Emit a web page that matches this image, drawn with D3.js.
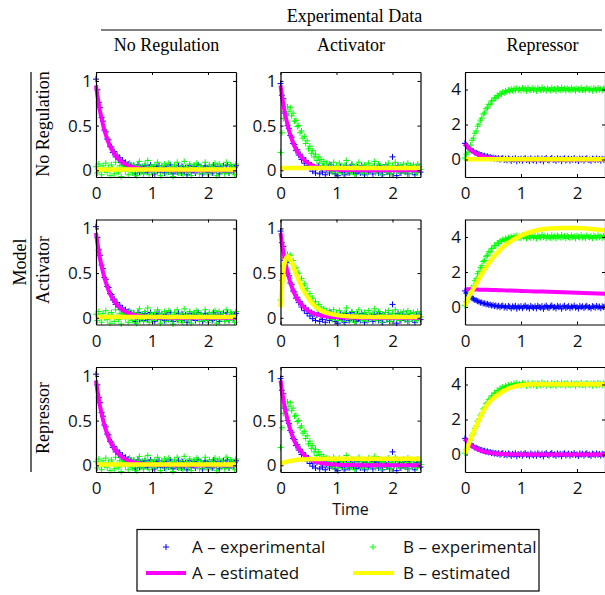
<!DOCTYPE html>
<html><head><meta charset="utf-8">
<script src="https://cdn.jsdelivr.net/npm/d3@7"></script>
<style>body{margin:0;background:#fff} svg{display:block}</style>
</head><body>
<svg id="chart" width="605" height="595"></svg>
<script>
// ---------- labels ----------
const rowNames = ["No Regulation", "Activator", "Repressor"];   // model
const colNames = ["No Regulation", "Activator", "Repressor"];   // experimental data
const xTicks = [0, 1, 2];
const yTicksSmall = [0, 0.5, 1];
const yTicksLarge = [0, 2, 4];
const legendLabels = ["A \u2013 experimental", "B \u2013 experimental", "A \u2013 estimated", "B \u2013 estimated"];

// ---------- experimental data (sampled every 0.025 time units, 0..2.5) ----------
const sampleStep = 0.025;
const expA_noReg = [
  1.02, 0.90, 0.76, 0.70, 0.59, 0.55, 0.45, 0.43, 0.35, 0.34,
  0.27, 0.26, 0.20, 0.21, 0.15, 0.17, 0.12, 0.14, 0.09, 0.11,
  0.06, 0.09, 0.04, 0.07, 0.02, 0.06, 0.01, 0.05, -0.04, 0.03,
  0.06, -0.02, 0.02, 0.04, -0.03, 0.05, 0.01, -0.02, 0.03, 0.06,
  -0.01, 0.02, -0.04, 0.04, 0.00, 0.05, -0.02, 0.03, 0.01, -0.03,
  0.04, 0.02, -0.02, 0.06, 0.00, -0.04, 0.03, 0.01, -0.02, 0.05,
  0.02, -0.03, 0.04, -0.01, 0.03, -0.05, 0.02, 0.05, -0.02, 0.01,
  0.04, -0.03, 0.02, 0.06, -0.01, 0.03, -0.04, 0.02, 0.05, 0.00,
  -0.02, 0.04, 0.01, -0.03, 0.06, 0.02, -0.01, 0.04, -0.04, 0.03,
  0.01, 0.05, -0.02, 0.02, 0.06, -0.03, 0.01, 0.04, -0.01, 0.03,
  0.05];
const expB_noReg = [
  0.04, -0.03, 0.07, 0.01, -0.05, 0.05, 0.00, 0.08, -0.02, 0.03,
  -0.06, 0.06, 0.02, -0.04, 0.09, 0.01, -0.02, 0.05, -0.07, 0.03,
  0.06, -0.01, 0.04, -0.05, 0.08, 0.00, -0.03, 0.06, 0.02, -0.06,
  0.05, 0.10, -0.02, 0.03, -0.04, 0.07, 0.01, 0.11, -0.05, 0.04,
  0.02, -0.03, 0.06, -0.01, 0.09, 0.03, -0.06, 0.05, 0.00, 0.07,
  -0.04, 0.02, 0.08, -0.02, 0.04, -0.07, 0.06, 0.01, 0.09, -0.03,
  0.03, 0.05, -0.05, 0.10, 0.00, 0.04, -0.02, 0.07, -0.06, 0.02,
  0.06, -0.01, 0.08, 0.03, -0.04, 0.05, 0.01, -0.03, 0.09, 0.02,
  -0.05, 0.06, 0.00, 0.04, -0.02, 0.08, -0.06, 0.03, 0.07, -0.01,
  0.05, 0.01, -0.04, 0.09, 0.02, -0.03, 0.06, 0.00, 0.04, -0.05,
  0.07];
const expA_act = [
  0.97, 0.84, 0.80, 0.64, 0.62, 0.50, 0.47, 0.39, 0.37, 0.30,
  0.29, 0.22, 0.23, 0.17, 0.18, 0.12, 0.14, 0.08, 0.11, 0.05,
  0.08, 0.02, 0.06, -0.01, 0.04, -0.03, 0.03, 0.05, -0.04, 0.02,
  -0.02, 0.04, -0.05, 0.01, 0.03, -0.03, 0.06, -0.01, 0.02, -0.04,
  0.03, -0.06, 0.01, 0.04, -0.02, 0.02, -0.05, 0.05, 0.00, -0.03,
  0.03, 0.06, -0.02, 0.01, -0.04, 0.04, 0.00, -0.03, 0.05, 0.02,
  -0.05, 0.03, 0.01, -0.02, 0.02, 0.02, -0.04, 0.04, -0.01, 0.03,
  -0.03, 0.05, 0.00, -0.05, 0.02, 0.06, -0.02, 0.03, -0.04, 0.01,
  0.15, -0.01, 0.02, -0.06, 0.05, 0.01, -0.03, 0.03, 0.00, -0.02,
  0.04, -0.04, 0.02, 0.05, -0.01, 0.01, -0.05, 0.03, 0.00, 0.04,
  -0.02];
const expB_act = [
  0.20, 0.42, 0.58, 0.66, 0.63, 0.71, 0.66, 0.70, 0.61, 0.64,
  0.55, 0.56, 0.49, 0.50, 0.42, 0.44, 0.36, 0.38, 0.30, 0.33,
  0.24, 0.27, 0.19, 0.22, 0.15, 0.18, 0.11, 0.15, 0.08, 0.12,
  0.05, 0.10, 0.03, 0.08, 0.01, 0.07, 0.04, -0.02, 0.09, 0.02,
  0.05, -0.03, 0.08, 0.01, 0.04, -0.04, 0.06, 0.11, 0.00, 0.03,
  -0.02, 0.07, 0.02, -0.05, 0.05, 0.01, 0.09, -0.01, 0.04, -0.03,
  0.06, 0.02, -0.04, 0.08, 0.03, -0.01, 0.05, 0.10, -0.03, 0.02,
  0.07, 0.00, -0.05, 0.04, 0.01, 0.06, -0.02, 0.08, 0.03, -0.04,
  0.05, 0.02, 0.09, -0.01, 0.04, -0.03, 0.06, 0.01, 0.07, -0.02,
  0.03, 0.08, -0.04, 0.05, 0.00, 0.06, 0.02, -0.03, 0.07, 0.04,
  0.01];
const expA_rep = [
  0.92, 0.80, 0.74, 0.62, 0.58, 0.50, 0.47, 0.40, 0.38, 0.33,
  0.31, 0.25, 0.26, 0.20, 0.21, 0.15, 0.18, 0.12, 0.14, 0.08,
  0.11, 0.05, 0.09, 0.02, 0.07, -0.01, 0.05, 0.08, -0.03, 0.04,
  -0.05, 0.06, 0.01, -0.08, 0.04, -0.02, 0.07, -0.10, 0.03, -0.04,
  0.05, -0.07, 0.02, 0.08, -0.03, 0.01, -0.09, 0.06, -0.01, -0.05,
  0.04, -0.08, 0.07, 0.00, -0.04, 0.05, -0.11, 0.02, 0.08, -0.02,
  -0.06, 0.03, 0.09, -0.03, 0.01, -0.08, 0.06, -0.01, 0.04, -0.10,
  0.02, 0.07, -0.05, 0.00, 0.05, -0.07, 0.03, -0.02, 0.08, -0.04,
  0.01, -0.09, 0.06, -0.01, 0.04, -0.06, 0.02, 0.07, -0.03, 0.00,
  -0.08, 0.05, 0.01, -0.04, 0.06, -0.02, 0.03, -0.07, 0.04, -0.01,
  0.02];
const expB_rep = [
  0.08, 0.30, 0.41, 0.70, 0.82, 1.10, 1.22, 1.50, 1.62, 1.90,
  2.02, 2.25, 2.36, 2.60, 2.66, 2.90, 2.95, 3.15, 3.16, 3.35,
  3.36, 3.52, 3.50, 3.66, 3.63, 3.78, 3.74, 3.86, 3.80, 3.92,
  3.86, 3.97, 3.90, 4.02, 3.93, 4.05, 3.95, 4.08, 3.96, 4.03,
  3.94, 4.09, 3.98, 4.04, 3.92, 4.10, 4.00, 3.95, 4.07, 3.97,
  4.05, 3.91, 4.08, 4.01, 3.96, 4.12, 3.99, 4.04, 3.93, 4.06,
  4.00, 3.95, 4.10, 3.97, 4.03, 3.92, 4.08, 4.02, 3.96, 4.11,
  3.98, 4.05, 3.93, 4.07, 4.00, 3.95, 4.09, 3.99, 4.04, 3.92,
  4.06, 4.01, 3.96, 4.10, 3.97, 4.03, 3.94, 4.08, 4.00, 3.98,
  4.05, 3.93, 4.07, 4.02, 3.96, 4.09, 3.99, 4.04, 3.95, 4.06,
  4.01];

// ---------- estimated trajectories ----------
const tEst = [0, 0.025, 0.05, 0.075, 0.1, 0.125, 0.15, 0.2, 0.25, 0.3, 0.35, 0.4, 0.5, 0.6, 0.7, 0.8, 1.0, 1.25, 1.5, 1.75, 2.0, 2.25, 2.5];
const estA_decay    = [0.95, 0.84, 0.74, 0.65, 0.58, 0.51, 0.45, 0.35, 0.27, 0.21, 0.165, 0.128, 0.078, 0.047, 0.029, 0.017, 0.006, 0.002, 0.001, 0, 0, 0, 0];
const estA_decayRep = [0.92, 0.81, 0.72, 0.63, 0.56, 0.49, 0.43, 0.34, 0.26, 0.20, 0.16, 0.12, 0.075, 0.045, 0.027, 0.016, 0.006, 0.002, 0, 0, 0, 0, 0];
const estA_slow     = [1.02, 1.02, 1.01, 1.01, 1.01, 1.01, 1.00, 1.00, 0.99, 0.99, 0.98, 0.98, 0.97, 0.96, 0.95, 0.94, 0.92, 0.89, 0.87, 0.84, 0.82, 0.79, 0.76];
const estB_zero     = [0.01, 0.01, 0.01, 0.01, 0.01, 0.01, 0.01, 0.01, 0.01, 0.01, 0.01, 0.01, 0.01, 0.01, 0.01, 0.01, 0.01, 0.01, 0.01, 0.01, 0.01, 0.01, 0.01];
const estB_flat     = [0.025, 0.025, 0.025, 0.025, 0.025, 0.025, 0.025, 0.025, 0.025, 0.025, 0.025, 0.025, 0.025, 0.025, 0.025, 0.025, 0.025, 0.025, 0.025, 0.025, 0.025, 0.025, 0.025];
const estB_actFit   = [0.12, 0.35, 0.52, 0.62, 0.67, 0.69, 0.68, 0.62, 0.54, 0.46, 0.39, 0.32, 0.22, 0.14, 0.09, 0.06, 0.03, 0.015, 0.01, 0.01, 0.01, 0.01, 0.01];
const estB_repOnAct = [0.02, 0.025, 0.03, 0.034, 0.038, 0.042, 0.046, 0.052, 0.057, 0.061, 0.064, 0.066, 0.069, 0.07, 0.071, 0.072, 0.072, 0.072, 0.072, 0.072, 0.072, 0.072, 0.072];
const estB_actOnRep = [0.05, 0.25, 0.44, 0.62, 0.78, 0.92, 1.06, 1.32, 1.62, 1.90, 2.16, 2.40, 2.82, 3.18, 3.48, 3.72, 4.08, 4.36, 4.48, 4.52, 4.51, 4.46, 4.38];
const estB_repFit   = [0.05, 0.28, 0.48, 0.68, 0.88, 1.07, 1.26, 1.62, 1.98, 2.30, 2.60, 2.86, 3.20, 3.45, 3.66, 3.80, 3.96, 4.01, 4.02, 4.02, 4.02, 4.02, 4.02];

// ---------- assembly ----------
const expA = [expA_noReg, expA_act, expA_rep];
const expB = [expB_noReg, expB_act, expB_rep];
const estA = [
  [estA_decay, estA_decay, estA_decayRep],
  [estA_decay, estA_decay, estA_slow],
  [estA_decay, estA_decay, estA_decayRep]];
const estB = [
  [estB_zero, estB_flat, estB_zero],
  [estB_zero, estB_actFit, estB_actOnRep],
  [estB_zero, estB_repOnAct, estB_repFit]];

const svg = d3.select("#chart");
const SANS = "'Open Sans', 'DejaVu Sans', sans-serif";
const SERIF = "'Liberation Serif', 'DejaVu Serif', serif";
const colLeft = [96, 280.5, 465];
const rowTop = [72, 219.5, 367];
const pw = 140, ph = 105;
const colors = {A: "#0000ff", B: "#00ff00", Aest: "#ff00ff", Best: "#ffff00"};
const plusPath = "M-3,0H3M0,-3V3";

for (let r = 0; r < 3; r++) {
  for (let c = 0; c < 3; c++) {
    const g = svg.append("g").attr("transform", `translate(${colLeft[c]},${rowTop[r]})`);
    const x = d3.scaleLinear().domain([0, 2.5]).range([0, pw]);
    const y = d3.scaleLinear().domain(c === 2 ? [-1, 5] : [-0.075, 1.1]).range([ph, 0]);
    const yt = c === 2 ? yTicksLarge : yTicksSmall;

    // experimental points
    [[expA[c], colors.A], [expB[c], colors.B]].forEach(([vals, col]) => {
      g.append("g").selectAll("path").data(vals).join("path")
        .attr("d", plusPath)
        .attr("transform", (v, i) => `translate(${x(i * sampleStep)},${y(v)})`)
        .attr("stroke", col).attr("stroke-width", 1).attr("fill", "none");
    });

    // estimated lines
    const line = d3.line().x((v, i) => x(tEst[i])).y(v => y(v)).curve(d3.curveMonotoneX);
    g.append("path").datum(estA[r][c]).attr("d", line)
      .attr("fill", "none").attr("stroke", colors.Aest).attr("stroke-width", 4);
    g.append("path").datum(estB[r][c]).attr("d", line)
      .attr("fill", "none").attr("stroke", colors.Best).attr("stroke-width", 4.5);

    // axes (box with inward ticks)
    const fmt = d => String(d);
    const ax = [
      g.append("g").attr("transform", `translate(0,${ph})`)
        .call(d3.axisBottom(x).tickValues(xTicks).tickSize(-3).tickSizeOuter(0).tickPadding(10).tickFormat(fmt)),
      g.append("g")
        .call(d3.axisLeft(y).tickValues(yt).tickSize(-3).tickSizeOuter(0).tickPadding(4).tickFormat(fmt)),
      g.append("g")
        .call(d3.axisTop(x).tickValues(xTicks).tickSize(-3).tickSizeOuter(0).tickFormat("")),
      g.append("g").attr("transform", `translate(${pw},0)`)
        .call(d3.axisRight(y).tickValues(yt).tickSize(-3).tickSizeOuter(0).tickFormat(""))
    ];
    ax.forEach(a => {
      a.attr("font-family", SANS).attr("font-size", 17);
      a.selectAll("path.domain").attr("stroke", "#000").attr("stroke-width", 1.2);
      a.selectAll(".tick line").attr("stroke", "#000");
      a.selectAll("text").attr("fill", "#111");
    });
  }
}

// ---------- headers ----------
svg.append("text").attr("x", 354.5).attr("y", 22).attr("text-anchor", "middle")
  .attr("font-family", SERIF).attr("font-size", 18).text("Experimental Data");
svg.append("line").attr("x1", 101).attr("x2", 602).attr("y1", 30).attr("y2", 30)
  .attr("stroke", "#000").attr("stroke-width", 1.2);
const headerX = [166.5, 351, 542.5];
colNames.forEach((n, i) => svg.append("text").attr("x", headerX[i]).attr("y", 51)
  .attr("text-anchor", "middle").attr("font-family", SERIF).attr("font-size", 18).text(n));

svg.append("text").attr("transform", "translate(26,262) rotate(-90)").attr("text-anchor", "middle")
  .attr("font-family", SERIF).attr("font-size", 18).text("Model");
svg.append("line").attr("x1", 31).attr("x2", 31).attr("y1", 72).attr("y2", 472)
  .attr("stroke", "#000").attr("stroke-width", 1.2);
const rowLabelY = [124, 270, 418];
rowNames.forEach((n, i) => svg.append("text").attr("transform", `translate(49,${rowLabelY[i]}) rotate(-90)`)
  .attr("text-anchor", "middle").attr("font-family", SERIF).attr("font-size", 18).text(n));

svg.append("text").attr("x", 350.5).attr("y", 515).attr("text-anchor", "middle")
  .attr("font-family", SANS).attr("font-size", 16).attr("fill", "#111").text("Time");

// ---------- legend ----------
const lg = svg.append("g");
lg.append("rect").attr("x", 137).attr("y", 529.5).attr("width", 402).attr("height", 61.5)
  .attr("fill", "#fff").attr("stroke", "#000").attr("stroke-width", 1.2);
const legendItems = [
  {label: legendLabels[0], type: "mark", color: colors.A, x: 146, tx: 192, y: 547},
  {label: legendLabels[1], type: "mark", color: colors.B, x: 353, tx: 403, y: 547},
  {label: legendLabels[2], type: "line", color: colors.Aest, x: 146, tx: 192, y: 573},
  {label: legendLabels[3], type: "line", color: colors.Best, x: 353, tx: 403, y: 573}];
legendItems.forEach(it => {
  if (it.type === "mark") {
    lg.append("path").attr("d", plusPath).attr("transform", `translate(${it.x + 20},${it.y})`)
      .attr("stroke", it.color).attr("fill", "none");
  } else {
    lg.append("line").attr("x1", it.x).attr("x2", it.x + 40).attr("y1", it.y).attr("y2", it.y)
      .attr("stroke", it.color).attr("stroke-width", 4);
  }
  lg.append("text").attr("x", it.tx).attr("y", it.y).attr("dy", "0.35em")
    .attr("font-family", SANS).attr("font-size", 17).attr("fill", "#111").text(it.label);
});
</script>
</body></html>
